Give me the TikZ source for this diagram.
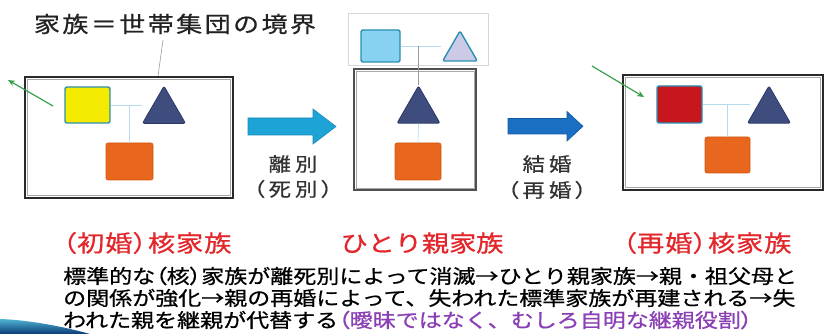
\documentclass[tikz,border=0pt]{standalone}
\usepackage{fontspec}
\newfontfamily\jp{Noto Sans CJK JP}[FakeStretch=1.18,FakeBold=0.7]
\newfontfamily\jpp{Noto Sans CJK JP}[FakeStretch=1.18,FakeBold=0.7,RawFeature=+palt]
\usetikzlibrary{shapes.geometric,arrows.meta}
\definecolor{frameC}{HTML}{2A2A2A}
\definecolor{innerC}{HTML}{A8A8A8}
\definecolor{midframeC}{HTML}{505050}
\definecolor{faintC}{HTML}{D6D6D6}
\definecolor{yellowC}{HTML}{F5EB00}
\definecolor{tealC}{HTML}{2B8FB0}
\definecolor{orangeC}{HTML}{E8661E}
\definecolor{orangeD}{HTML}{D55612}
\definecolor{navyC}{HTML}{3E4C7E}
\definecolor{navyD}{HTML}{2D3866}
\definecolor{lblueC}{HTML}{86D2F0}
\definecolor{lavC}{HTML}{CBCBE8}
\definecolor{redC}{HTML}{C8161E}
\definecolor{linkC}{HTML}{B5DCEF}
\definecolor{linkG}{HTML}{9A9A9A}
\definecolor{greenC}{HTML}{3AA04A}
\definecolor{arrowAC}{HTML}{1EA3D6}
\definecolor{arrowAD}{HTML}{168AB8}
\definecolor{arrowBC}{HTML}{1B6FC2}
\definecolor{arrowBD}{HTML}{145AA0}
\definecolor{titleC}{HTML}{222222}
\definecolor{labC}{HTML}{333333}
\definecolor{redL}{HTML}{E3262B}
\definecolor{purpleC}{HTML}{8B3FB5}
\definecolor{swA}{HTML}{4FB4D2}
\definecolor{swB}{HTML}{0B3A78}
\newlength\trk
\setlength\trk{4pt}
\def\spcx#1{\ifx\relax#1\else#1\kern\trk\expandafter\spcx\fi}
\def\spaced#1{\spcx#1\relax\kern-\trk}
\newcommand\lp{{\jpp （}}
\newcommand\rp{{\jpp ）}}
\begin{document}
\begin{tikzpicture}[x=1pt,y=-1pt,
  frame/.style={rectangle,draw=frameC,line width=2.4pt,inner sep=0pt},
  innerframe/.style={rectangle,draw=innerC,line width=0.8pt,inner sep=0pt},
  sq/.style={rectangle,rounded corners=2pt,inner sep=0pt,line width=1.4pt},
  orsq/.style={sq,fill=orangeC,draw=orangeD,line width=0.6pt},
  tri/.style={regular polygon,regular polygon sides=3,inner sep=0pt,rounded corners=2pt,fill=navyC,draw=navyD,line width=0.8pt},
  link/.style={draw=linkC,line width=0.7pt},
  linkg/.style={draw=linkG,line width=0.6pt},
  greenarr/.style={draw=greenC,line width=1.2pt,-{Stealth[length=7pt,width=6pt]}},
  lab/.style={font=\jp\fontsize{19}{22}\selectfont,text=labC,inner sep=0pt},
  redlab/.style={font=\jp\fontsize{23}{26}\selectfont,text=redL,inner sep=0pt},
  body/.style={font=\jp\fontsize{19.5}{22}\selectfont,text=black,inner sep=0pt,anchor=west}]
\useasboundingbox (0,0) rectangle (825,334);
\fill[white] (0,0) rectangle (825,334);
% title
\node[font=\jp\fontsize{22}{26}\selectfont,text=titleC,inner sep=0pt] (title) at (175,24) {\setlength\trk{2.5pt}\spaced{家族＝世帯集団の境界}};
\coordinate (ld1) at (163,40);
\coordinate (ld2) at (158,76);
\draw[linkg] (ld1) -- (ld2);
% left panel
\node[frame,minimum width=208pt,minimum height=121pt] (boxL) at (129,137.5) {};
\node[innerframe,minimum width=203.6pt,minimum height=116.6pt] (boxLi) at (boxL.center) {};
\node[sq,fill=yellowC,draw=tealC,minimum width=45pt,minimum height=36pt] (yL) at (87.5,105) {};
\node[tri,minimum size=49.7pt] (tL) at (164,111) {};
\node[orsq,minimum width=47pt,minimum height=37pt] (oL) at (129.5,161.5) {};
\draw[link] (yL.east) -- (yL.east -| tL.corner 2);
\draw[link] (oL.north) -- (oL.north |- yL.east);
\coordinate (gL1) at (53,106);
\coordinate (gL2) at (8,80);
\draw[greenarr] (gL1) -- (gL2);
% arrow 1
\filldraw[fill=arrowAC,draw=arrowAD,line width=0.6pt] (248,118) -- (313,118) -- (313,109) -- (336,126.5) -- (313,144) -- (313,135) -- (248,135) -- cycle;
\node[lab] (sep1) at (293,164) {\spaced{離別}};
\node[lab] (sep2) at (293,189) {\spaced{\lp 死別\rp}};
% middle panel
\node[rectangle,draw=faintC,line width=0.6pt,inner sep=0pt,minimum width=140pt,minimum height=52pt] (boxT) at (418,39) {};
\node[sq,fill=lblueC,draw=tealC,minimum width=39pt,minimum height=32pt] (bM) at (380.5,46) {};
\node[tri,fill=lavC,draw=tealC,line width=1.4pt,minimum size=40pt] (lM) at (460,51) {};
\node[rectangle,draw=midframeC,line width=1.4pt,inner sep=0pt,minimum width=122pt,minimum height=121pt] (boxM) at (415,129.5) {};
\node[innerframe,minimum width=118pt,minimum height=117pt] (boxMi) at (boxM.center) {};
\node[tri,minimum size=49.7pt] (tM) at (418.5,110.8) {};
\node[orsq,minimum width=46pt,minimum height=37pt] (oM) at (418,161.5) {};
\draw[link] (bM.east) -- (bM.east -| lM.corner 2);
\draw[linkg] (tM.corner 1) -- (tM.corner 1 |- bM.east);
\draw[link] (tM.south) -- (oM.north);
% arrow 2
\filldraw[fill=arrowBC,draw=arrowBD,line width=0.6pt] (508,118.5) -- (567,118.5) -- (567,111.5) -- (583,126.3) -- (567,141) -- (567,134) -- (508,134) -- cycle;
\node[lab] (mar1) at (547,164) {\spaced{結婚}};
\node[lab] (mar2) at (547,190) {\spaced{\lp 再婚\rp}};
% right panel
\node[frame,minimum width=200pt,minimum height=115pt] (boxR) at (723,132.5) {};
\node[innerframe,minimum width=195.6pt,minimum height=110.6pt] (boxRi) at (boxR.center) {};
\node[sq,fill=redC,draw=tealC,minimum width=45pt,minimum height=37pt] (rR) at (679.5,104.5) {};
\node[tri,minimum size=49.7pt] (tR) at (769,110.8) {};
\node[orsq,minimum width=45pt,minimum height=36pt] (oR) at (727.5,155) {};
\draw[link] (rR.east) -- (rR.east -| oR.east);
\draw[link] (oR.north) -- (oR.north |- rR.east);
\coordinate (gR1) at (592,66);
\coordinate (gR2) at (644,97);
\draw[greenarr] (gR1) -- (gR2);
% red labels
\node[redlab] (n1) at (147,243) {\setlength\trk{1pt}\spaced{\lp 初婚\rp 核家族}};
\node[redlab] (n2) at (422,243) {\setlength\trk{0pt}\spaced{ひとり親家族}};
\node[redlab] (n3) at (707,243) {\setlength\trk{1pt}\spaced{\lp 再婚\rp 核家族}};
% body text
\node[body] (b1) at (63,276) {標準的な\lp 核\rp 家族が離死別によって消滅→ひとり親家族→親・祖父母と};
\node[body] (b2) at (63,298) {の関係が強化→親の再婚によって、失われた標準家族が再建される→失};
\node[body] (b3) at (63,320) {われた親を継親が代替する{\color{purpleC}\lp 曖昧ではなく、むしろ自明な継親役割\rp}};
% swoosh
\shade[top color=swA,bottom color=swB] (0,319) .. controls (30,320) and (65,327) .. (90,334) -- (0,334) -- cycle;
\end{tikzpicture}
\end{document}
